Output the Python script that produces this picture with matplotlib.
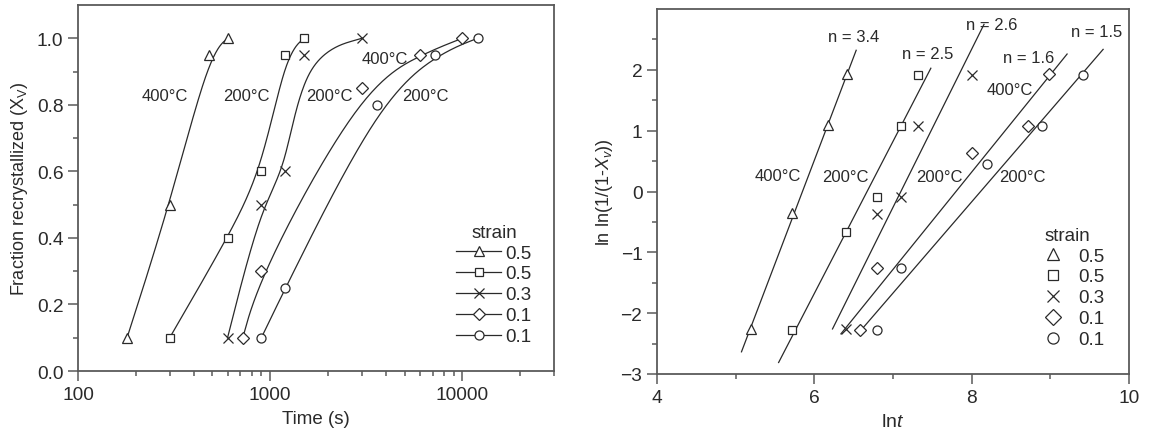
import numpy as np
import matplotlib
matplotlib.use("Agg")
import matplotlib.pyplot as plt
from matplotlib.lines import Line2D
from matplotlib.ticker import FixedLocator, LogLocator, NullFormatter

plt.rcParams["font.family"] = ["Liberation Sans", "DejaVu Sans"]
plt.rcParams["mathtext.fontset"] = "custom"
plt.rcParams["mathtext.rm"] = "Liberation Sans"
plt.rcParams["mathtext.it"] = "Liberation Sans:italic"

# ---- data -------------------------------------------------------------
strain_labels = ["0.5", "0.5", "0.3", "0.1", "0.1"]
series_markers = ["^", "s", "x", "D", "o"]
marker_sizes = [7.5, 6, 7, 6.5, 6.5]

# recrystallisation kinetics: time (s) vs fraction recrystallised
time_s = [
    [180, 300, 480, 600],
    [300, 600, 900, 1200, 1500],
    [600, 900, 1200, 1500, 3000],
    [720, 900, 3000, 6000, 10000],
    [900, 1200, 3600, 7200, 12000],
]
frac_rx = [
    [0.10, 0.50, 0.95, 1.00],
    [0.10, 0.40, 0.60, 0.95, 1.00],
    [0.10, 0.50, 0.60, 0.95, 1.00],
    [0.10, 0.30, 0.85, 0.95, 1.00],
    [0.10, 0.25, 0.80, 0.95, 1.00],
]

# Avrami plot: ln t vs ln ln(1/(1-X))
ln_t = [
    [5.20, 5.71, 6.18, 6.41],
    [5.71, 6.40, 6.80, 7.10, 7.32],
    [6.40, 6.80, 7.10, 7.32, 8.01],
    [6.58, 6.80, 8.01, 8.71, 8.98],
    [6.80, 7.10, 8.20, 8.90, 9.41],
]
lnln_x = [
    [-2.26, -0.36, 1.10, 1.93],
    [-2.27, -0.67, -0.09, 1.08, 1.92],
    [-2.26, -0.37, -0.09, 1.08, 1.92],
    [-2.27, -1.26, 0.63, 1.08, 1.93],
    [-2.27, -1.26, 0.46, 1.08, 1.92],
]

# fitted Avrami lines: exponent n, intercept, ln t range
avrami_n = [3.4, 2.5, 2.6, 1.6, 1.5]
avrami_b = [-19.887, -16.676, -18.46, -12.481, -12.170]
fit_lo = [5.074, 5.546, 6.231, 6.338, 6.583]
fit_hi = [6.532, 7.481, 8.157, 9.213, 9.671]

INK = "#2a2a2a"
SPINE = "#5a5a5a"


def bspline(xs, ys, n=40):
    """Clamped uniform cubic B-spline through the end points."""
    px = np.r_[[xs[0]] * 2, xs, [xs[-1]] * 2]
    py = np.r_[[ys[0]] * 2, ys, [ys[-1]] * 2]
    t = np.linspace(0, 1, n)
    b0 = (1 - t) ** 3 / 6
    b1 = (3 * t**3 - 6 * t**2 + 4) / 6
    b2 = (-3 * t**3 + 3 * t**2 + 3 * t + 1) / 6
    b3 = t**3 / 6
    ox, oy = [], []
    for i in range(len(px) - 3):
        ox.append(b0 * px[i] + b1 * px[i + 1] + b2 * px[i + 2] + b3 * px[i + 3])
        oy.append(b0 * py[i] + b1 * py[i + 1] + b2 * py[i + 2] + b3 * py[i + 3])
    return np.concatenate(ox), np.concatenate(oy)


def style_axes(ax):
    for s in ax.spines.values():
        s.set_color(SPINE)
        s.set_linewidth(1.3)
    ax.tick_params(which="both", direction="out", color=SPINE, width=1.1,
                   labelsize=13.8, labelcolor=INK)
    ax.tick_params(which="major", length=7)
    ax.tick_params(which="minor", length=3.5)


fig = plt.figure(figsize=(11.49, 4.39), dpi=100)
ax1 = fig.add_axes([0.0679, 0.1526, 0.4143, 0.8337])
ax2 = fig.add_axes([0.5718, 0.1458, 0.4108, 0.8314])

# ---- left panel ----------------------------------------------------------
for t, x, m, ms in zip(time_s, frac_rx, series_markers, marker_sizes):
    lx, ly = bspline(np.log10(t), np.array(x))
    ax1.plot(10**lx, ly, color=INK, lw=0.9, zorder=2)
    ax1.plot(t, x, ls="none", marker=m, ms=ms, mfc="white", mec=INK,
             mew=0.9, zorder=3)

ax1.set_xscale("log")
ax1.set_xlim(100, 30000)
ax1.set_ylim(0, 1.1)
ax1.xaxis.set_major_locator(FixedLocator([100, 1000, 10000]))
ax1.set_xticklabels(["100", "1000", "10000"])
ax1.xaxis.set_minor_locator(LogLocator(base=10, subs=np.arange(2, 10)))
ax1.xaxis.set_minor_formatter(NullFormatter())
ax1.yaxis.set_major_locator(FixedLocator(np.arange(0, 1.01, 0.2)))
ax1.set_yticklabels([f"{v:.1f}" for v in np.arange(0, 1.01, 0.2)])
ax1.yaxis.set_minor_locator(FixedLocator([0.1, 0.3, 0.5, 0.7, 0.9]))
style_axes(ax1)
ax1.set_xlabel("Time (s)", fontsize=13.5, color=INK, labelpad=5)
ax1.set_ylabel(r"Fraction recrystallized (X$_\mathrm{V}$)", fontsize=13,
               color=INK, labelpad=5)

for (x, y, s) in [(283, 0.827, "400°C"), (750, 0.827, "200°C"),
                  (2030, 0.827, "200°C"), (3950, 0.94, "400°C"),
                  (6430, 0.827, "200°C")]:
    ax1.text(x, y, s, fontsize=12, color=INK, ha="center", va="center")

h1 = [Line2D([], [], color=INK, lw=0.9, marker=m, ms=ms, mfc="white",
             mec=INK, mew=0.9) for m, ms in zip(series_markers, marker_sizes)]
leg1 = ax1.legend(h1, strain_labels, title="strain", loc="lower right",
                  bbox_to_anchor=(0.98, 0.035), frameon=False, fontsize=13.5,
                  title_fontsize=13.5, handlelength=2.4, handletextpad=0.2,
                  labelspacing=0.2, borderpad=0.2)
for txt in leg1.get_texts():
    txt.set_color(INK)
leg1.get_title().set_color(INK)

# ---- right panel ---------------------------------------------------------
for lx, ly, m, ms in zip(ln_t, lnln_x, series_markers, marker_sizes):
    ax2.plot(lx, ly, ls="none", marker=m, ms=ms, mfc="white", mec=INK,
             mew=0.9, zorder=3)
for n, b, lo, hi in zip(avrami_n, avrami_b, fit_lo, fit_hi):
    xx = np.array([lo, hi])
    ax2.plot(xx, n * xx + b, color=INK, lw=0.9, zorder=2)

ax2.set_xlim(4, 10)
ax2.set_ylim(-3, 3)
ax2.xaxis.set_major_locator(FixedLocator([4, 6, 8, 10]))
ax2.xaxis.set_minor_locator(FixedLocator([5, 7, 9]))
ax2.yaxis.set_major_locator(FixedLocator([-3, -2, -1, 0, 1, 2]))
ax2.set_yticklabels(["\u22123", "\u22122", "\u22121", "0", "1", "2"])
ax2.yaxis.set_minor_locator(FixedLocator([-2.5, -1.5, -0.5, 0.5, 1.5, 2.5]))
style_axes(ax2)
ax2.set_xlabel(r"ln$t$", fontsize=14, color=INK, labelpad=5)
ax2.set_ylabel(r"ln ln(1/(1-$X_v$))", fontsize=13, color=INK, labelpad=4)

for n, (x, y) in zip(avrami_n, [(6.50, 2.54), (7.435, 2.27), (8.25, 2.75),
                                (8.73, 2.21), (9.59, 2.63)]):
    ax2.text(x, y, f"n = {n}", fontsize=12, color=INK, ha="center", va="center")
for (x, y, s) in [(5.54, 0.26, "400°C"), (6.40, 0.245, "200°C"),
                  (7.59, 0.245, "200°C"), (8.48, 1.67, "400°C"),
                  (8.65, 0.245, "200°C")]:
    ax2.text(x, y, s, fontsize=12, color=INK, ha="center", va="center")

h2 = [Line2D([], [], ls="none", marker=m, ms=ms + 1.5, mfc="white", mec=INK,
             mew=0.9) for m, ms in zip(series_markers, marker_sizes)]
leg2 = ax2.legend(h2, strain_labels, title="strain", loc="lower right",
                  bbox_to_anchor=(0.975, 0.035), frameon=False, fontsize=13.5,
                  title_fontsize=13.5, handlelength=1.0, handletextpad=0.8,
                  labelspacing=0.2, borderpad=0.2, alignment="left")
for txt in leg2.get_texts():
    txt.set_color(INK)
leg2.get_title().set_color(INK)

fig.savefig("out.png", dpi=100)
